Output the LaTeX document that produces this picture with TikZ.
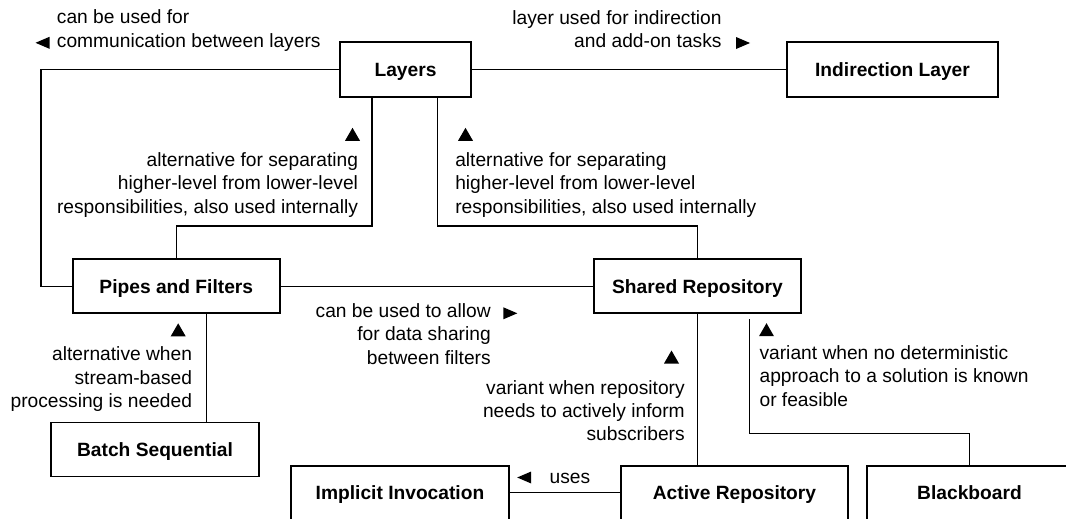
\documentclass[tikz,border=0pt]{standalone}
\usepackage{fontspec}
\setmainfont{Liberation Sans}
\tikzset{
  box/.style={draw,line width=1.4pt,minimum height=40.5pt,inner sep=0pt,
    font=\fontsize{14.4}{17.5}\selectfont\bfseries,text height=10.3pt,text depth=0pt},
  wire/.style={draw,line width=0.8pt},
  lbl/.style={inner sep=0pt,font=\fontsize{14.4}{17.5}\selectfont},
  tri up/.pic={\fill (-7.5,6.5)--(7.5,6.5)--(0,-6.5)--cycle;},
  tri right/.pic={\fill (-7,-6)--(-7,6)--(7,0)--cycle;},
  tri left/.pic={\fill (7,-6)--(7,6)--(-7,0)--cycle;}
}
\begin{document}
\begin{tikzpicture}[x=0.75pt,y=-0.75pt]
\useasboundingbox (0,0) rectangle (1066,518);
\clip (0,0) rectangle (1066,518);
% boxes
\node[box,minimum width=98.25pt,minimum height=41.25pt] (L) at (405.5,69.5) {Layers};
\node[box,minimum width=158.25pt,minimum height=41.25pt] (IL) at (892.5,69.5) {Indirection Layer};
\node[box,minimum width=155.25pt] (PF) at (176.3,286.3) {Pipes and Filters};
\node[box,minimum width=155.25pt] (SR) at (697.5,286.3) {Shared Repository};
\node[box,minimum width=156pt] (BS) at (155,449.5) {Batch Sequential};
\node[box,minimum width=163.5pt] (II) at (400,492.7) {Implicit Invocation};
\node[box,minimum width=170.7pt] (AR) at (734.5,492.7) {Active Repository};
\node[box,minimum width=154.2pt] (BB) at (969.5,492.7) {Blackboard};
% helper coordinates
\coordinate (lcorner) at (41,180);
\coordinate (lcol) at (372,226);
\coordinate (rcol) at (437.5,226);
\coordinate (bscol) at (206.7,380);
\coordinate (bbcol) at (749.3,433.3);
% connectors
\draw[wire] (L.west) -| (lcorner) |- (PF.west);
\draw[wire] (L.east) -- (IL.west);
\draw[wire] (L.south -| lcol) -- (lcol) -| (PF.north);
\draw[wire] (L.south -| rcol) -- (rcol) -| (SR.north);
\draw[wire] (PF.east) -- (SR.west);
\draw[wire] (PF.south -| bscol) -- (BS.north -| bscol);
\draw[wire] (SR.south) -- (AR.north -| SR.south);
\draw[wire] ([yshift=-3.75pt]SR.south -| bbcol) -- (bbcol) -| (BB.north);
\draw[wire] (AR.west) -- (II.east);
% labels (anchor = baseline of last line)
\node[lbl,anchor=base west,align=left] (t1) at (56.7,47) {can be used for\\communication between layers};
\node[lbl,anchor=base east,align=right] (t2) at (721.8,47.5) {layer used for indirection\\and add-on tasks};
\node[lbl,anchor=base east,align=right] (t3) at (358.3,213.3) {alternative for separating\\higher-level from lower-level\\responsibilities, also used internally};
\node[lbl,anchor=base west,align=left] (t4) at (455,213.3) {alternative for separating\\higher-level from lower-level\\responsibilities, also used internally};
\node[lbl,anchor=base east,align=right] (t5) at (491,364) {can be used to allow\\for data sharing\\between filters};
\node[lbl,anchor=base east,align=right] (t6) at (192.3,407.5) {alternative when\\stream-based\\processing is needed};
\node[lbl,anchor=base east,align=right] (t7) at (685,440.7) {variant when repository\\needs to actively inform\\subscribers};
\node[lbl,anchor=base west,align=left] (t8) at (759.3,406.3) {variant when no deterministic\\approach to a solution is known\\or feasible};
\node[lbl,anchor=base west] (t9) at (549.3,483.3) {uses};
% direction triangles
\pic at (42.5,42.8) {tri left};
\pic at (743,43) {tri right};
\pic at (352.5,134.3) {tri up};
\pic at (465.5,134.3) {tri up};
\pic at (510.3,313.3) {tri right};
\pic at (178.2,329.8) {tri up};
\pic at (671.5,357) {tri up};
\pic at (766.5,329.7) {tri up};
\pic at (524.2,477.5) {tri left};
\end{tikzpicture}
\end{document}
